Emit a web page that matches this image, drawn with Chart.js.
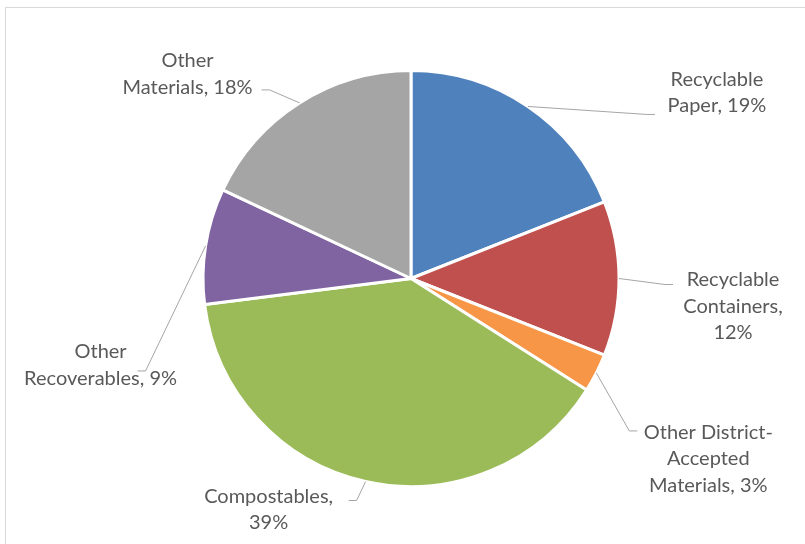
<!DOCTYPE html>
<html>
<head>
<meta charset="utf-8">
<script src="https://cdn.jsdelivr.net/npm/chart.js@4/dist/chart.umd.min.js"></script>
<style>
  html, body { margin: 0; padding: 0; background: #fff; }
  #wrap { width: 805px; height: 544px; }
</style>
</head>
<body>
<div id="wrap"><canvas id="wastePie" width="805" height="544"></canvas></div>
<script>
// categories and shares (percent), clockwise from 12 o'clock
var categories = [
  "Recyclable Paper",
  "Recyclable Containers",
  "Other District-Accepted Materials",
  "Compostables",
  "Other Recoverables",
  "Other Materials",
];
var shares = [19, 12, 3, 39, 9, 18];
var sliceColors = ["#4f81bd", "#c0504d", "#f79646", "#9bbb59", "#8064a2", "#a5a5a5"];

// label text as it wraps in the picture
var labelLines = [
  ["Recyclable", "Paper, 19%"],
  ["Recyclable", "Containers,", "12%"],
  ["Other District-", "Accepted", "Materials, 3%"],
  ["Compostables,", "39%"],
  ["Other", "Recoverables, 9%"],
  ["Other", "Materials, 18%"],
];
// where each label block sits, relative to the slice's outer edge point
var labelShift = [[189, -14], [114, 28], [112, 86], [-97, 28], [-105, 119], [-112, -29]];
// where the leader line stops, relative to the label block centre
var leaderEnd = [[-62, 22], [-60, -22], [-71, -28], [80, -9], [37, 6], [74, 16]];

var ctx = document.getElementById("wastePie").getContext("2d");

// white page with the thin grey frame
var framePlugin = {
  id: "frame",
  beforeDraw: function (chart) {
    var c = chart.ctx;
    c.save();
    c.fillStyle = "#ffffff";
    c.fillRect(0, 0, chart.width, chart.height);
    c.strokeStyle = "#d9d9d9";
    c.lineWidth = 1;
    c.strokeRect(5.5, 7.5, chart.width + 10, chart.height + 10);
    c.restore();
  },
};

// outside labels with leader lines
var labelPlugin = {
  id: "outsideLabels",
  afterDatasetsDraw: function (chart) {
    var c = chart.ctx;
    var arcs = chart.getDatasetMeta(0).data;
    c.save();
    c.font = "20px Lato";
    c.fillStyle = "#595959";
    c.textAlign = "center";
    c.textBaseline = "middle";
    arcs.forEach(function (arc, i) {
      var p = arc.getProps(["x", "y", "startAngle", "endAngle", "outerRadius"], true);
      var mid = (p.startAngle + p.endAngle) / 2;
      var ex = p.x + Math.cos(mid) * p.outerRadius;
      var ey = p.y + Math.sin(mid) * p.outerRadius;
      var bx = ex + labelShift[i][0];
      var by = ey + labelShift[i][1];
      var lx = bx + leaderEnd[i][0];
      var ly = by + leaderEnd[i][1];
      var elbow = lx + (leaderEnd[i][0] < 0 ? -8 : 8);

      c.strokeStyle = "#a6a6a6";
      c.lineWidth = 1;
      c.beginPath();
      c.moveTo(ex, ey);
      c.lineTo(elbow, ly);
      c.lineTo(lx, ly);
      c.stroke();

      var lines = labelLines[i];
      var lh = 26.5;
      var top = by - ((lines.length - 1) * lh) / 2;
      lines.forEach(function (t, k) {
        c.fillText(t, bx, top + k * lh);
      });
    });
    c.restore();
  },
};

var wastePie = new Chart(ctx, {
  type: "pie",
  data: {
    labels: categories,
    datasets: [
      {
        data: shares,
        backgroundColor: sliceColors,
        borderColor: "#ffffff",
        borderWidth: 3,
      },
    ],
  },
  options: {
    responsive: false,
    animation: false,
    layout: { padding: { top: 69, bottom: 56, left: 17, right: 0 } },
    plugins: {
      legend: { display: false },
      tooltip: { enabled: false },
    },
  },
  plugins: [framePlugin, labelPlugin],
});
</script>
</body>
</html>
